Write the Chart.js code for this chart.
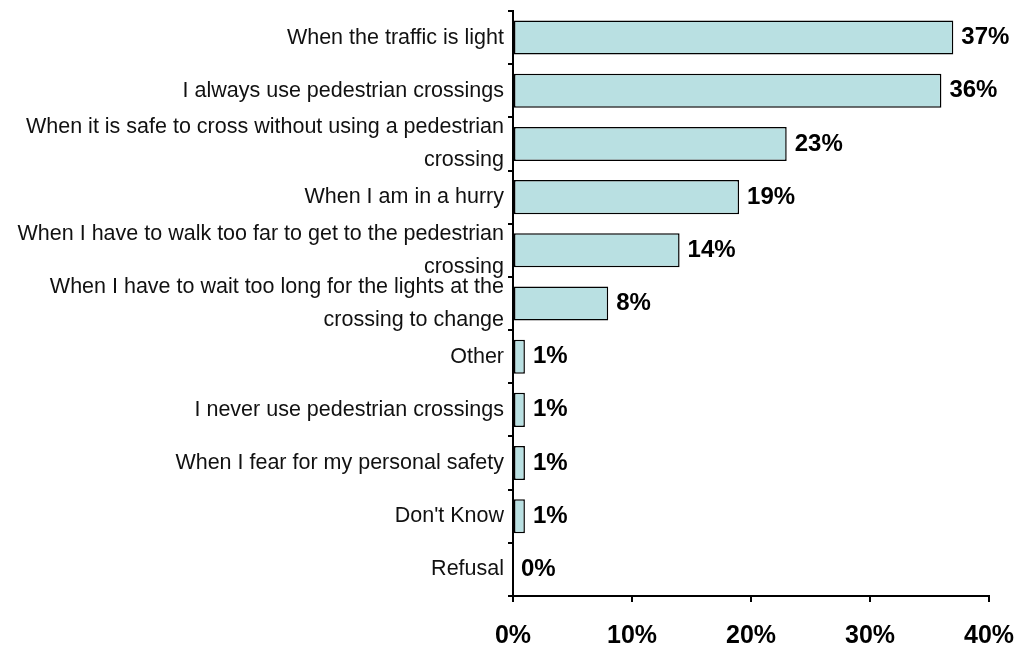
<!DOCTYPE html>
<html>
<head>
<meta charset="utf-8">
<script src="https://cdn.jsdelivr.net/npm/chart.js@4.4.1/dist/chart.umd.min.js"></script>
<style>
  html, body { margin: 0; padding: 0; background: #fff; }
  #wrap { position: relative; width: 1019px; height: 648px; }
</style>
</head>
<body>
<div id="wrap"><canvas id="bar-chart"></canvas></div>
<script>
const categories = [
  'When the traffic is light',
  'I always use pedestrian crossings',
  ['When it is safe to cross without using a pedestrian', 'crossing'],
  'When I am in a hurry',
  ['When I have to walk too far to get to the pedestrian', 'crossing'],
  ['When I have to wait too long for the lights at the', 'crossing to change'],
  'Other',
  'I never use pedestrian crossings',
  'When I fear for my personal safety',
  "Don't Know",
  'Refusal',
];
const shares = [37, 36, 23, 19, 14, 8, 1, 1, 1, 1, 0];
const tickValues = [0, 10, 20, 30, 40];

const FONT = '"Liberation Sans", Arial, sans-serif';

// percentage labels drawn just past the end of each bar
const barValueLabels = {
  id: 'barValueLabels',
  afterDatasetsDraw(chart) {
    const ctx = chart.ctx;
    const meta = chart.getDatasetMeta(0);
    ctx.save();
    ctx.font = 'bold 24px ' + FONT;
    ctx.fillStyle = '#000';
    ctx.textAlign = 'left';
    ctx.textBaseline = 'middle';
    meta.data.forEach((bar, i) => {
      ctx.fillText(shares[i] + '%', bar.x + 8, bar.y);
    });
    ctx.restore();
  },
};

// keep the plot area fixed: no extra room for overhanging tick labels
function noOverhang(scale) {
  scale.paddingTop = 0;
  scale.paddingBottom = 0;
  scale.paddingLeft = 0;
  scale.paddingRight = 0;
}

const config = {
  type: 'bar',
  data: {
    labels: categories,
    datasets: [
      {
        data: shares,
        backgroundColor: '#b9e0e2',
        borderColor: '#000',
        borderWidth: 1.5,
        borderSkipped: false,
        barPercentage: 0.8,
        categoryPercentage: 0.8,
      },
    ],
  },
  options: {
    indexAxis: 'y',
    maintainAspectRatio: false,
    responsive: true,
    animation: false,
    layout: {
      padding: { top: 11, right: 30, left: 0, bottom: 0 },
    },
    plugins: {
      legend: { display: false },
      tooltip: { enabled: false },
    },
    scales: {
      y: {
        afterFit(scale) {
          scale.width = 513;
          noOverhang(scale);
        },
        border: { color: '#000', width: 2 },
        grid: {
          drawOnChartArea: false,
          color: '#000',
          lineWidth: 2,
          tickLength: 5,
        },
        ticks: {
          color: '#111',
          padding: 4,
          autoSkip: false,
          font: {
            family: FONT,
            size: 21.5,
            lineHeight: 1.53,
          },
        },
      },
      x: {
        min: 0,
        max: 40,
        afterFit(scale) {
          scale.height = 52;
          noOverhang(scale);
        },
        afterBuildTicks(scale) {
          scale.ticks = tickValues.map((v) => ({ value: v }));
        },
        border: { color: '#000', width: 2 },
        grid: {
          drawOnChartArea: false,
          color: '#000',
          lineWidth: 2,
          tickLength: 6,
        },
        ticks: {
          color: '#000',
          padding: 19,
          callback: (value) => value + '%',
          font: {
            family: FONT,
            size: 25,
            weight: 'bold',
          },
        },
      },
    },
  },
  plugins: [barValueLabels],
};

new Chart(document.getElementById('bar-chart'), config);
</script>
</body>
</html>
